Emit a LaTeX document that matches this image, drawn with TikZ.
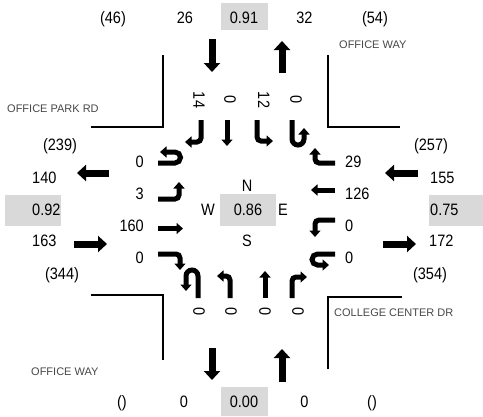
\documentclass[tikz,border=0pt]{standalone}
\usepackage{fontspec}
\setmainfont{Liberation Sans}
\newfontfamily\numfont[FakeStretch=0.88]{Liberation Sans}
\usetikzlibrary{arrows.meta}
\begin{document}
\begin{tikzpicture}[x=1pt,y=-1pt,
  num/.style={font=\numfont\fontsize{16.5}{17}\selectfont, inner sep=0pt, anchor=base},
  rnum/.style={font=\numfont\fontsize{16.5}{17}\selectfont, inner sep=0pt},
  lbl/.style={font=\fontsize{11}{12}\selectfont, inner sep=0pt, anchor=base west, text=black!72},
  big/.style={line width=7pt, -{Triangle[length=9pt,width=16pt]}},
  turn/.style={line width=5pt, rounded corners=4pt, -{Triangle[length=6.5pt,width=11pt]}},
  uturn/.style={line width=5pt, -{Triangle[length=6.5pt,width=11pt]}},
  corner/.style={line width=1.6pt},
  vcbox/.style={fill=black!15}]
\useasboundingbox (0,0) rectangle (483,416);

% grey boxes
\fill[vcbox] (221,3) rectangle (268,30);
\fill[vcbox] (221,387) rectangle (268,416);
\fill[vcbox] (5,195) rectangle (61,226);
\fill[vcbox] (429,195) rectangle (483,226);
\fill[vcbox] (220,194) rectangle (276,226);

% top row
\node[num] (t1) at (113,23) {(46)};
\node[num] (t2) at (185,23) {26};
\node[num] (t3) at (244,23) {0.91};
\node[num] (t4) at (304.5,23) {32};
\node[num] (t5) at (375,23) {(54)};
% bottom row
\node[num] (b1) at (122,407) {()};
\node[num] (b2) at (184,407) {0};
\node[num] (b3) at (244,407) {0.00};
\node[num] (b4) at (304.5,407) {0};
\node[num] (b5) at (372,407) {()};
% left column
\node[num, anchor=base] (l1) at (60,150) {(239)};
\node[num, anchor=base west] (l2) at (32,183) {140};
\node[num, anchor=base west] (l3) at (32,215) {0.92};
\node[num, anchor=base west] (l4) at (32,246) {163};
\node[num, anchor=base] (l5) at (62,279) {(344)};
% right column
\node[num, anchor=base] (r1) at (431,150) {(257)};
\node[num, anchor=base west] (r2) at (430,183) {155};
\node[num, anchor=base west] (r3) at (430,215) {0.75};
\node[num, anchor=base west] (r4) at (429,246) {172};
\node[num, anchor=base] (r5) at (430,279) {(354)};
% center
\node[num] (cn) at (247,191.5) {N};
\node[num] (cw) at (208,215) {W};
\node[num] (cv) at (248,215) {0.86};
\node[num] (ce) at (283,215) {E};
\node[num] (cs) at (247,246) {S};

% left approach numbers
\node[num, anchor=base east] (la1) at (144,167) {0};
\node[num, anchor=base east] (la2) at (144,199) {3};
\node[num, anchor=base east] (la3) at (144,231) {160};
\node[num, anchor=base east] (la4) at (144,263) {0};
% right approach numbers
\node[num, anchor=base west] (ra1) at (345,167) {29};
\node[num, anchor=base west] (ra2) at (345,199) {126};
\node[num, anchor=base west] (ra3) at (345,231) {0};
\node[num, anchor=base west] (ra4) at (345,263) {0};
% top approach numbers (rotated)
\node[rnum, rotate=-90] (ta1) at (199,100) {14};
\node[rnum, rotate=-90] (ta2) at (230,100) {0};
\node[rnum, rotate=-90] (ta3) at (264,100) {12};
\node[rnum, rotate=-90] (ta4) at (296,100) {0};
% bottom approach numbers (rotated)
\node[rnum, rotate=-90] (ba1) at (199,312) {0};
\node[rnum, rotate=-90] (ba2) at (231,312) {0};
\node[rnum, rotate=-90] (ba3) at (265,312) {0};
\node[rnum, rotate=-90] (ba4) at (298,312) {0};

% street labels
\node[lbl] (s1) at (7,112) {OFFICE PARK RD};
\node[lbl] (s2) at (339,48) {OFFICE WAY};
\node[lbl] (s3) at (334,316.5) {COLLEGE CENTER DR};
\node[lbl] (s4) at (31,375) {OFFICE WAY};

% corner curb lines
\draw[corner] (91,127) -- (163,127) -- (163,55);
\draw[corner] (328,55) -- (328,127) -- (400,127);
\draw[corner] (91,295) -- (163,295) -- (163,360);
\draw[corner] (328,369) -- (328,297) -- (402,297);

% big approach / departure arrows
\draw[big] (212,39) -- (212,72);
\draw[big] (282,73) -- (282,41);
\draw[big] (212,348) -- (212,380);
\draw[big] (282,382) -- (282,349);
\draw[big] (109,173) -- (77,173);
\draw[big] (74,244) -- (107,244);
\draw[big] (418,173) -- (385,173);
\draw[big] (383,244) -- (416,244);

% left approach (eastbound) movement arrows
\draw[uturn] (158,163) -- (175,163) arc[start angle=90,end angle=-90,radius=5.5] -- (160,152);
\draw[turn] (158,199) -- (179,199) -- (179,182);
\draw[turn] (158,228.5) -- (183,228.5);
\draw[turn] (158,254) -- (180,254) -- (180,270);

% right approach (westbound)
\draw[turn] (335,163) -- (315,163) -- (315,148);
\draw[turn] (335,190) -- (311,190);
\draw[turn] (335,220) -- (315,220) -- (315,237);
\draw[uturn] (335,254) -- (317.5,254) arc[start angle=-90,end angle=-270,radius=5.5] -- (329,265);

% top approach (southbound)
\draw[turn] (201,120) -- (201,142) -- (185,142);
\draw[turn] (227,120) -- (227,146);
\draw[turn] (257,120) -- (257,141) -- (273,141);
\draw[uturn] (292,120) -- (292,139) arc[start angle=180,end angle=0,radius=6] -- (304,128);

% bottom approach (northbound)
\draw[uturn] (198,298) -- (198,276) arc[start angle=0,end angle=-180,radius=6] -- (186,291);
\draw[turn] (230,298) -- (230,276) -- (217,276);
\draw[turn] (265,298) -- (265,271);
\draw[turn] (292,298) -- (292,277) -- (307,277);
\end{tikzpicture}
\end{document}
